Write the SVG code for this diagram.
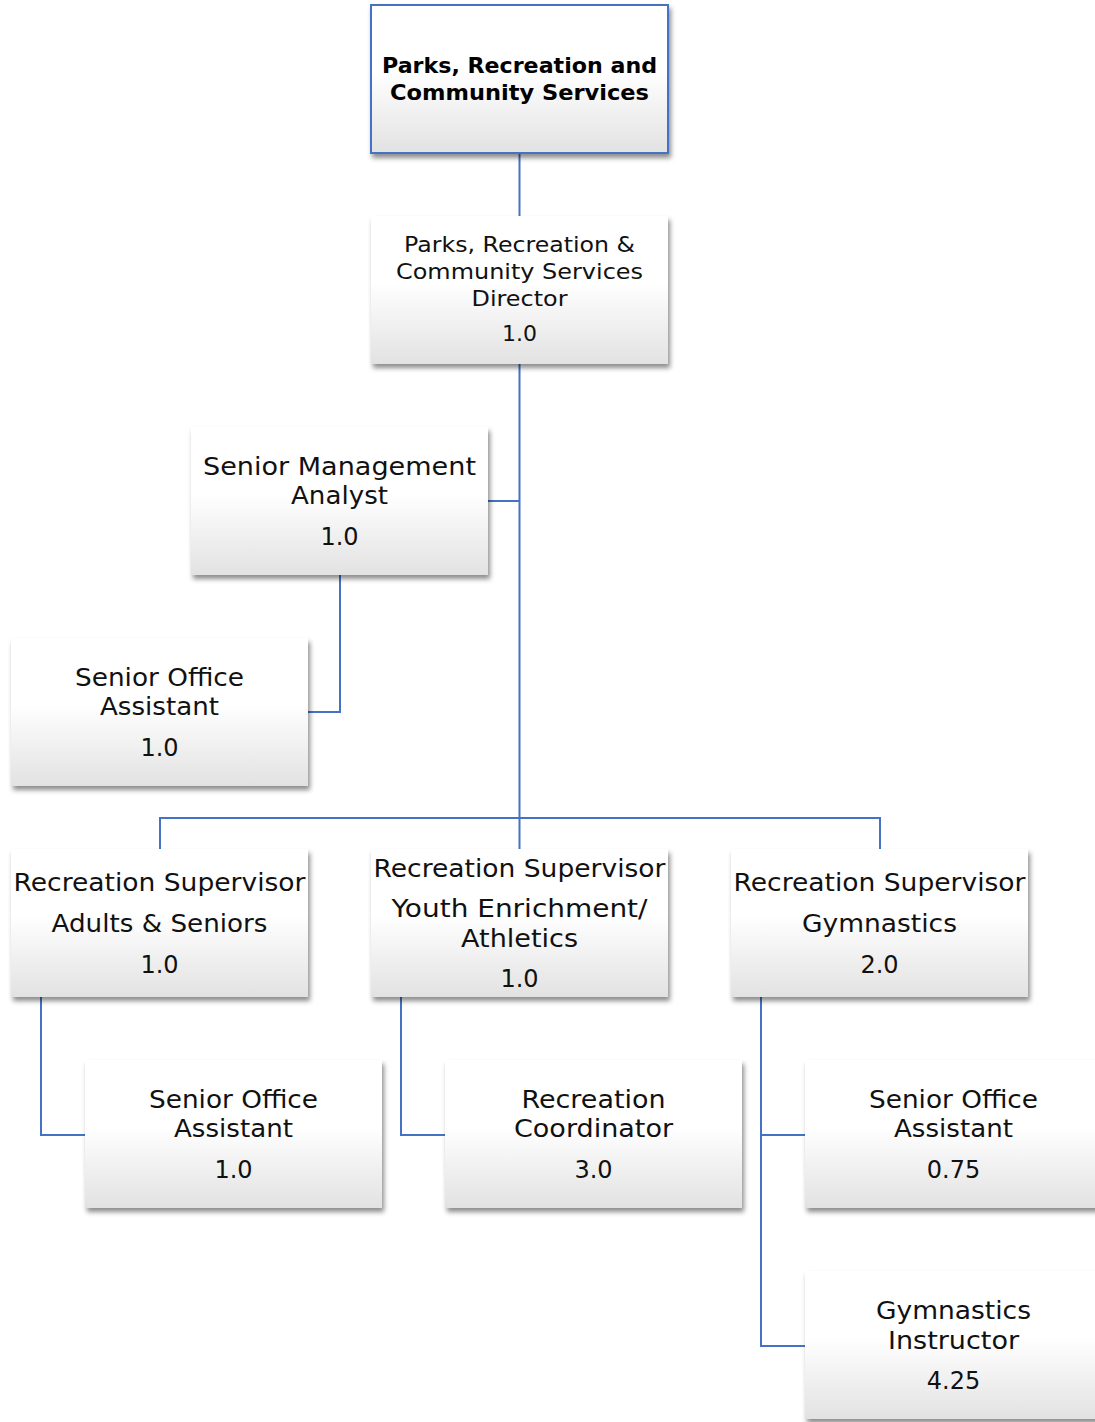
<svg xmlns="http://www.w3.org/2000/svg" width="1095" height="1422" viewBox="0 0 1095 1422">
<defs>
<linearGradient id="g" x1="0" y1="0" x2="0" y2="1">
<stop offset="0" stop-color="#ffffff"/>
<stop offset="0.45" stop-color="#ffffff"/>
<stop offset="1" stop-color="#e2e2e2"/>
</linearGradient>
<filter id="sh" x="-10%" y="-10%" width="125%" height="130%">
<feDropShadow dx="2" dy="4" stdDeviation="2.5" flood-color="#000" flood-opacity="0.45"/>
</filter>
</defs>
<style>
.box{fill:url(#g);filter:url(#sh);}
.top{stroke:#4472c4;stroke-width:2;}
.t{font-family:"DejaVu Sans","Liberation Sans",sans-serif;font-size:24px;fill:#111;text-anchor:middle;}
.b{font-family:"DejaVu Sans","Liberation Sans",sans-serif;font-size:22px;font-weight:bold;fill:#000;text-anchor:middle;}
.s{font-size:22px;}
.c{fill:none;stroke:#4472c4;stroke-width:2;}
</style>
<g id="connectors">
<path class="c" d="M519.5 153V216"/>
<path class="c" d="M519.5 364V849"/>
<path class="c" d="M160 849V818H880V849"/>
<path class="c" d="M488 501H519.5"/>
<path class="c" d="M340 575V712H308"/>
<path class="c" d="M41 997V1135H85"/>
<path class="c" d="M401 997V1135H445"/>
<path class="c" d="M761 997V1346H805M761 1135H805"/>
</g>
<g id="n-top"><rect class="box top" x="371" y="5" width="297" height="148"/>
<text class="b" x="519.5" y="73" textLength="275" lengthAdjust="spacingAndGlyphs">Parks, Recreation and</text><text class="b" x="519.5" y="100" textLength="259" lengthAdjust="spacingAndGlyphs">Community Services</text></g>
<g id="n-director"><rect class="box" x="371" y="216" width="297" height="148"/>
<text class="t s" x="519.5" y="252" textLength="231" lengthAdjust="spacingAndGlyphs">Parks, Recreation &amp;</text><text class="t s" x="519.5" y="279" textLength="247" lengthAdjust="spacingAndGlyphs">Community Services</text><text class="t s" x="519.5" y="306" textLength="96" lengthAdjust="spacingAndGlyphs">Director</text><text class="t s" x="519.5" y="341">1.0</text></g>
<g id="n-sma"><rect class="box" x="191" y="427" width="297" height="148"/>
<text class="t" x="339.5" y="475" textLength="273" lengthAdjust="spacingAndGlyphs">Senior Management</text><text class="t" x="339.5" y="504" textLength="97" lengthAdjust="spacingAndGlyphs">Analyst</text><text class="t" x="339.5" y="545">1.0</text></g>
<g id="n-soa1"><rect class="box" x="11" y="638" width="297" height="148"/>
<text class="t" x="159.5" y="686" textLength="169" lengthAdjust="spacingAndGlyphs">Senior Office</text><text class="t" x="159.5" y="715" textLength="119" lengthAdjust="spacingAndGlyphs">Assistant</text><text class="t" x="159.5" y="756">1.0</text></g>
<g id="n-rs1"><rect class="box" x="11" y="849" width="297" height="148"/>
<text class="t" x="159.5" y="891" textLength="292" lengthAdjust="spacingAndGlyphs">Recreation Supervisor</text><text class="t" x="159.5" y="932" textLength="216" lengthAdjust="spacingAndGlyphs">Adults &amp; Seniors</text><text class="t" x="159.5" y="973">1.0</text></g>
<g id="n-rs2"><rect class="box" x="371" y="849" width="297" height="148"/>
<text class="t" x="519.5" y="877" textLength="292" lengthAdjust="spacingAndGlyphs">Recreation Supervisor</text><text class="t" x="519.5" y="917" textLength="256" lengthAdjust="spacingAndGlyphs">Youth Enrichment/</text><text class="t" x="519.5" y="947" textLength="117" lengthAdjust="spacingAndGlyphs">Athletics</text><text class="t" x="519.5" y="987">1.0</text></g>
<g id="n-rs3"><rect class="box" x="731" y="849" width="297" height="148"/>
<text class="t" x="879.5" y="891" textLength="292" lengthAdjust="spacingAndGlyphs">Recreation Supervisor</text><text class="t" x="879.5" y="932" textLength="155" lengthAdjust="spacingAndGlyphs">Gymnastics</text><text class="t" x="879.5" y="973">2.0</text></g>
<g id="n-soa2"><rect class="box" x="85" y="1060" width="297" height="148"/>
<text class="t" x="233.5" y="1108" textLength="169" lengthAdjust="spacingAndGlyphs">Senior Office</text><text class="t" x="233.5" y="1137" textLength="119" lengthAdjust="spacingAndGlyphs">Assistant</text><text class="t" x="233.5" y="1178">1.0</text></g>
<g id="n-rc"><rect class="box" x="445" y="1060" width="297" height="148"/>
<text class="t" x="593.5" y="1108" textLength="144" lengthAdjust="spacingAndGlyphs">Recreation</text><text class="t" x="593.5" y="1137" textLength="159" lengthAdjust="spacingAndGlyphs">Coordinator</text><text class="t" x="593.5" y="1178">3.0</text></g>
<g id="n-soa3"><rect class="box" x="805" y="1060" width="297" height="148"/>
<text class="t" x="953.5" y="1108" textLength="169" lengthAdjust="spacingAndGlyphs">Senior Office</text><text class="t" x="953.5" y="1137" textLength="119" lengthAdjust="spacingAndGlyphs">Assistant</text><text class="t" x="953.5" y="1178">0.75</text></g>
<g id="n-gi"><rect class="box" x="805" y="1271" width="297" height="148"/>
<text class="t" x="953.5" y="1319" textLength="155" lengthAdjust="spacingAndGlyphs">Gymnastics</text><text class="t" x="953.5" y="1349" textLength="131" lengthAdjust="spacingAndGlyphs">Instructor</text><text class="t" x="953.5" y="1389">4.25</text></g>
</svg>
